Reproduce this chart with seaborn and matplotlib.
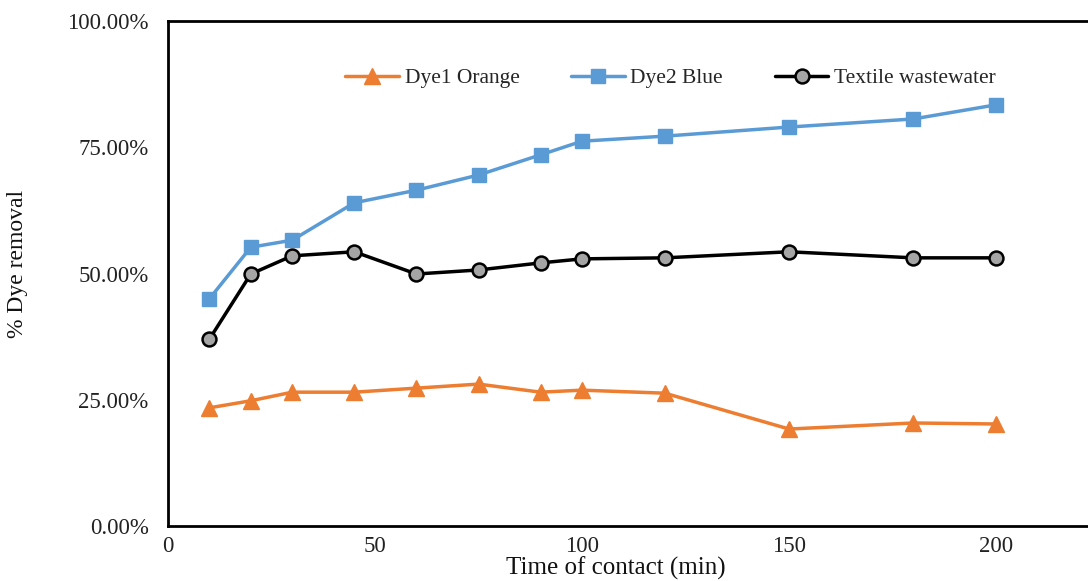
import numpy as np
import matplotlib.pyplot as plt
import pandas as pd
import seaborn as sns
from matplotlib.ticker import FuncFormatter

# values
time_min = [10, 20, 30, 45, 60, 75, 90, 100, 120, 150, 180, 200]
dye1_orange = [23.4, 24.8, 26.5, 26.5, 27.3, 28.1, 26.5, 26.9, 26.3, 19.2, 20.4, 20.2]
dye2_blue = [45.0, 55.2, 56.6, 64.0, 66.5, 69.5, 73.5, 76.2, 77.2, 79.0, 80.6, 83.4]
textile = [37.0, 49.9, 53.5, 54.3, 49.9, 50.7, 52.1, 52.9, 53.1, 54.3, 53.1, 53.1]
series_names = ['Dye1 Orange', 'Dye2 Blue', 'Textile wastewater']
y_ticks = [0, 25, 50, 75, 100]
x_ticks = [0, 50, 100, 150, 200]

df = pd.DataFrame({'time': time_min * 3,
                   'removal': dye1_orange + dye2_blue + textile,
                   'series': np.repeat(series_names, len(time_min))})

sns.set_style('white')
plt.rcParams['font.family'] = ['Liberation Serif', 'DejaVu Serif']

fig = plt.figure(figsize=(10.88, 5.81), dpi=100)
ax = fig.add_axes([168 / 1088, 55 / 581, 1 - 168 / 1088, 505 / 581])

styles = {
    'Dye1 Orange': dict(color='#ED7D31', marker='^', markersize=11, mfc='#ED7D31', mec='#ED7D31'),
    'Dye2 Blue': dict(color='#5B9BD5', marker='s', markersize=10, mfc='#5B9BD5', mec='#5B9BD5'),
    'Textile wastewater': dict(color='black', marker='o', markersize=10, mfc='#A5A5A5', mec='black', mew=1.8),
}
for name in series_names:
    sub = df[df['series'] == name]
    st = styles[name]
    sns.lineplot(data=sub, x='time', y='removal', ax=ax, label=name,
                 color=st['color'], linewidth=2.5, marker=st['marker'],
                 markersize=st['markersize'], markerfacecolor=st['mfc'],
                 markeredgecolor=st['mec'], markeredgewidth=st.get('mew', 1))

ax.set_xlim(0, 222.2)
ax.set_ylim(0, 100)
ax.set_xticks(x_ticks)
ax.set_yticks(y_ticks)
ax.yaxis.set_major_formatter(FuncFormatter(lambda v, p: f'{v:.2f}%'))
ax.tick_params(axis='both', length=0, labelsize=16.5, colors='#222222')
ax.tick_params(axis='y', pad=14)
ax.tick_params(axis='x', pad=7)

for s in ['left', 'bottom', 'top']:
    ax.spines[s].set_color('black')
    ax.spines[s].set_linewidth(2)
ax.spines['right'].set_visible(False)

# axis titles placed like the reference (x title is not centred on the axes)
ax.set_xlabel('')
ax.set_ylabel('')
fig.text(616 / 1088, 1 / 581, 'Time of contact (min)', fontsize=18,
         ha='center', va='bottom', color='#111111')
fig.text(18 / 1088, 1 - 264 / 581, '% Dye removal', fontsize=17, rotation=90,
         ha='center', va='center', color='#111111')

ax.legend(loc='upper left', bbox_to_anchor=(158 / 920, 0.945), ncol=3, frameon=False,
          fontsize=15.5, handlelength=2.5, columnspacing=2.4, handletextpad=0.25)

fig.savefig('out.png', dpi=100)
